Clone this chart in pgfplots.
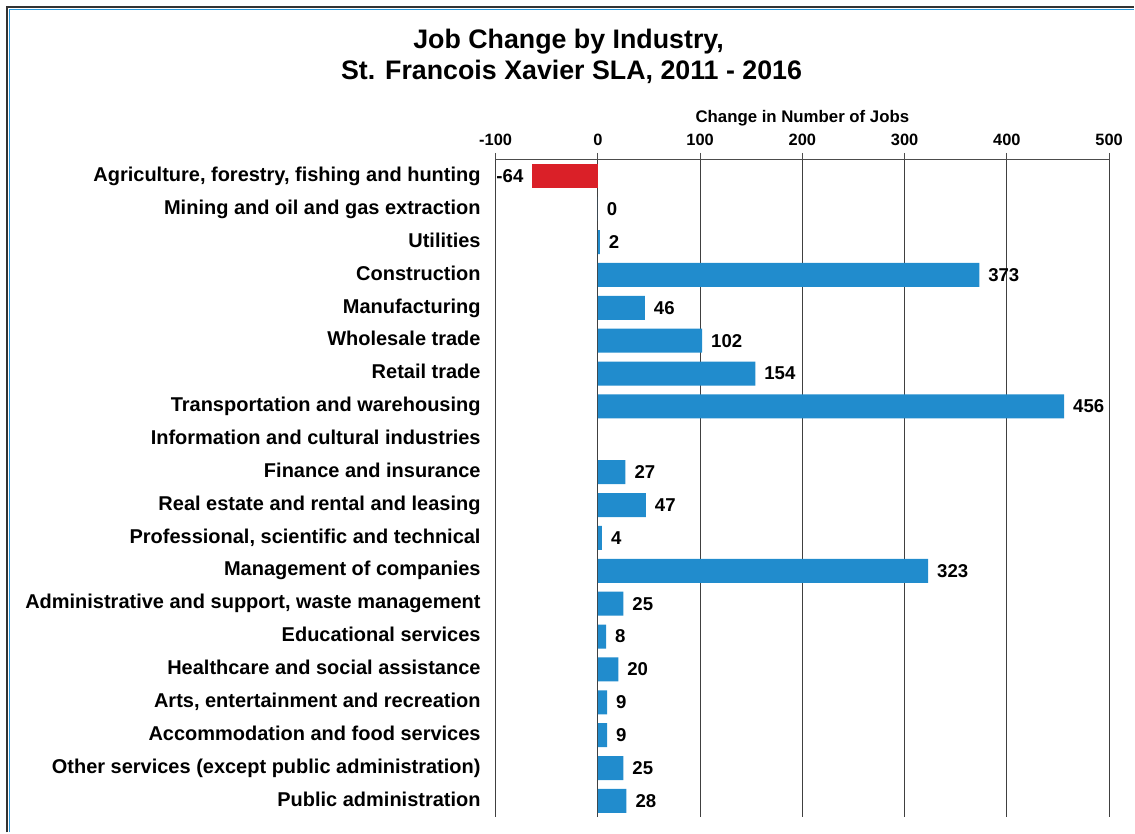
\documentclass[border=0pt]{standalone}
\usepackage{pgfplots}
\pgfplotsset{compat=1.18}
\usepackage{fontspec}
\setmainfont{Liberation Sans}

\definecolor{barblue}{RGB}{33,140,205}
\definecolor{barred}{RGB}{218,32,40}
\definecolor{frameblue}{RGB}{40,150,215}

\begin{document}
\begin{tikzpicture}
% canvas: 1 px of the reference = 0.5pt
\begin{scope}[x=0.5pt,y=-0.5pt]
  \path (0,0) rectangle (1135,833);
  \draw[black!80,line width=0.6pt] (7,833) -- (7,7) -- (1135,7);
  \draw[frameblue,line width=0.9pt] (9.5,833) -- (9.5,9.5) -- (1135,9.5);
  \node[font=\bfseries\fontsize{13.4}{16}\selectfont] at (569,42) {Job Change by Industry,};
  \node[font=\bfseries\fontsize{13.4}{16}\selectfont] at (572,72) {St. Francois Xavier SLA, 2011 - 2016};
\end{scope}

\begin{axis}[
    at={(248pt,-80pt)}, anchor=north west,
    scale only axis,
    width=307pt, height=329pt,
    xbar, bar shift=0pt, bar width=0.73,
    xmin=-100, xmax=500,
    ymin=0.5, ymax=20.5,
    y dir=reverse,
    xtick={-100,0,...,500},
    axis x line*=top,
    axis y line*=left,
    y axis line style={draw=none},
    tick align=outside,
    major tick length=3.5pt,
    x axis line style={black!70, line width=0.6pt},
    xtick style={black!70, line width=0.6pt},
    xmajorgrids,
    major grid style={black!75, line width=0.6pt},
    ytick={1,...,20},
    yticklabels={
      {Agriculture, forestry, fishing and hunting},
      Mining and oil and gas extraction,
      Utilities,
      Construction,
      Manufacturing,
      Wholesale trade,
      Retail trade,
      Transportation and warehousing,
      Information and cultural industries,
      Finance and insurance,
      Real estate and rental and leasing,
      {Professional, scientific and technical},
      Management of companies,
      {Administrative and support, waste management},
      Educational services,
      Healthcare and social assistance,
      {Arts, entertainment and recreation},
      Accommodation and food services,
      Other services (except public administration),
      Public administration},
    yticklabel style={font=\bfseries\fontsize{10}{12}\selectfont, anchor=east, xshift=-0.5pt,
      text height=7.2pt, text depth=2pt},
    ytick style={draw=none},
    xticklabel style={font=\bfseries\fontsize{8.2}{10}\selectfont},
    /pgf/number format/assume math mode=true,
    xlabel={Change in Number of Jobs},
    xlabel style={font=\bfseries\fontsize{8.4}{10}\selectfont, yshift=-3pt},
    nodes near coords,
    nodes near coords style={font=\bfseries\fontsize{9.3}{11}\selectfont, black},
]
\addplot[fill=barblue, draw=none, nodes near coords style={anchor=west, xshift=1pt}] coordinates {
  (0,2) (2,3) (373,4) (46,5) (102,6) (154,7) (456,8)
  (27,10) (47,11) (4,12) (323,13) (25,14) (8,15) (20,16)
  (9,17) (9,18) (25,19) (28,20)
};
\addplot[fill=barred, draw=none, nodes near coords style={anchor=east, xshift=-1pt}] coordinates {
  (-64,1)
};
\end{axis}
\end{tikzpicture}
\end{document}
